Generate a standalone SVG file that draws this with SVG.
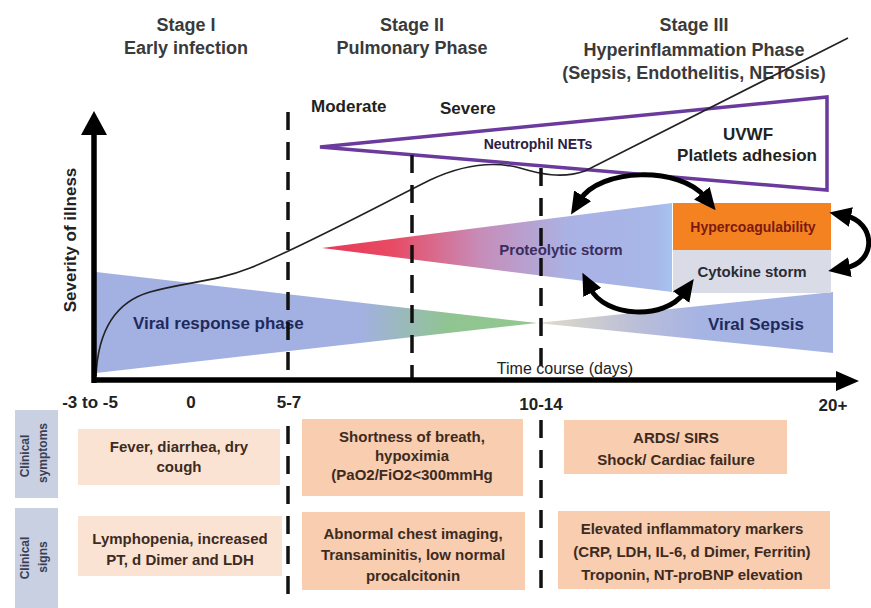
<svg xmlns="http://www.w3.org/2000/svg" width="871" height="608" viewBox="0 0 871 608">
<style>
  text { font-family: "Liberation Sans", Arial, sans-serif; font-weight: bold; }
  .head { font-size: 18px; fill: #3a3a3a; text-anchor: middle; }
  .sev { font-size: 17px; fill: #222; }
  .tick { font-size: 17px; fill: #222; text-anchor: middle; }
  .cell { font-size: 15px; fill: #3d2b1f; text-anchor: middle; }
  .side { font-size: 12px; fill: #3a3f55; text-anchor: middle; }
  .dash { stroke: #111; stroke-width: 3.5; stroke-dasharray: 18 12; fill: none; }
  .axis { stroke: #000; stroke-width: 5.5; fill: none; }
  .conn { stroke: #000; stroke-width: 5; fill: none; marker-start: url(#ah); marker-end: url(#ah); }
  .light { fill: #fbe3d3; }
  .peach { fill: #f8cdb0; }
  .sideBox { fill: #c9d0e1; }
</style>
<defs>
  <marker id="ah" viewBox="0 0 22 20" refX="5" refY="10" markerWidth="22" markerHeight="20" markerUnits="userSpaceOnUse" orient="auto-start-reverse">
    <path d="M0,0 L22,10 L0,20 z" fill="#000"/>
  </marker>
  <linearGradient id="gViral" gradientUnits="userSpaceOnUse" x1="96" y1="0" x2="537" y2="0">
    <stop offset="0" stop-color="#a3b0e2"/>
    <stop offset="0.6" stop-color="#a3b0e2"/>
    <stop offset="0.8" stop-color="#90c490"/>
    <stop offset="1" stop-color="#92c892"/>
  </linearGradient>
  <linearGradient id="gSepsis" gradientUnits="userSpaceOnUse" x1="537" y1="0" x2="833" y2="0">
    <stop offset="0" stop-color="#e2dcc8"/>
    <stop offset="0.35" stop-color="#b9bdd8"/>
    <stop offset="0.55" stop-color="#a6b4e4"/>
    <stop offset="1" stop-color="#a6b4e4"/>
  </linearGradient>
  <linearGradient id="gProt" gradientUnits="userSpaceOnUse" x1="322" y1="0" x2="672" y2="0">
    <stop offset="0" stop-color="#e63a58"/>
    <stop offset="0.2" stop-color="#e84a64"/>
    <stop offset="0.45" stop-color="#c78cb8"/>
    <stop offset="0.7" stop-color="#aab2e4"/>
    <stop offset="0.95" stop-color="#a8b6e8"/>
    <stop offset="1" stop-color="#a6c4ee"/>
  </linearGradient>
</defs>

<rect width="871" height="608" fill="#fff"/>

<!-- Stage headings -->
<g id="stage1">
  <text class="head" x="186" y="31">Stage I</text>
  <text class="head" x="186" y="54">Early infection</text>
</g>
<g id="stage2">
  <text class="head" x="412" y="31">Stage II</text>
  <text class="head" x="412" y="54">Pulmonary Phase</text>
</g>
<g id="stage3">
  <text class="head" x="694" y="31">Stage III</text>
  <text class="head" x="694" y="56">Hyperinflammation Phase</text>
  <text class="head" x="694" y="79">(Sepsis, Endothelitis, NETosis)</text>
</g>

<g id="severity-labels">
  <text class="sev" x="311" y="112">Moderate</text>
  <text class="sev" x="440" y="114">Severe</text>
</g>

<!-- Viral response phase -->
<g id="viral-response">
  <polygon points="96,272 537,323 96,373" fill="url(#gViral)"/>
  <text x="133" y="329" font-size="17" fill="#1f2a5c">Viral response phase</text>
</g>

<!-- Viral Sepsis -->
<g id="viral-sepsis">
  <polygon points="537,323 833,292 833,353" fill="url(#gSepsis)"/>
  <text x="756" y="330" font-size="17" fill="#1f2a5c" text-anchor="middle">Viral Sepsis</text>
</g>

<!-- Proteolytic storm -->
<g id="proteolytic">
  <polygon points="322,248 672,203 672,292" fill="url(#gProt)"/>
  <text x="561" y="255" font-size="15" fill="#3b2d5e" text-anchor="middle">Proteolytic storm</text>
</g>

<!-- Hypercoagulability -->
<g id="hypercoagulability">
  <rect x="673" y="203" width="158" height="47" fill="#f58220"/>
  <text x="753" y="232" font-size="14" fill="#7a1a10" text-anchor="middle">Hypercoagulability</text>
</g>

<!-- Cytokine storm -->
<g id="cytokine">
  <rect x="673" y="250" width="158" height="43" fill="#d9dce6"/>
  <text x="752" y="277" font-size="15" fill="#2b2b35" text-anchor="middle">Cytokine storm</text>
</g>

<!-- Neutrophil NETs / UVWF -->
<g id="neutrophil-nets">
  <polygon points="320,147 827,97 827,190" fill="#fff" stroke="#6a3a9c" stroke-width="3.5" stroke-linejoin="miter"/>
  <text x="538" y="149" font-size="14" fill="#2a2040" text-anchor="middle">Neutrophil NETs</text>
  <text x="748" y="140" font-size="17" fill="#222" text-anchor="middle">UVWF</text>
  <text x="747" y="161" font-size="17" fill="#222" text-anchor="middle">Platlets adhesion</text>
</g>

<!-- Severity curve -->
<path id="severity-curve" d="M96,376 C98,330 115,302 150,292 C185,282 215,282 250,268 C300,248 380,205 430,180 C460,166 490,160 520,168 C540,174 562,179 585,171 L848,38" fill="none" stroke="#222" stroke-width="1.6"/>

<!-- Dashed phase dividers -->
<g id="dividers">
  <line class="dash" x1="288" y1="112" x2="288" y2="378"/>
  <line class="dash" x1="288" y1="426" x2="288" y2="598"/>
  <line class="dash" x1="412" y1="155" x2="412" y2="378"/>
  <line class="dash" x1="541" y1="168" x2="541" y2="378"/>
  <line class="dash" x1="541" y1="420" x2="541" y2="598"/>
</g>

<!-- Axes -->
<g id="axes">
  <line class="axis" x1="94" y1="132" x2="94" y2="383"/>
  <polygon points="94,111 81,135 107,135" fill="#000"/>
  <line class="axis" x1="92" y1="380" x2="840" y2="380"/>
  <polygon points="859,381 836,371 836,391" fill="#000"/>
  <text x="70" y="240" font-size="17" fill="#222" text-anchor="middle" transform="rotate(-90 70 240)" dy="6">Severity of illness</text>
  <text x="565" y="374" font-size="16" font-weight="normal" fill="#222" text-anchor="middle" style="font-weight:normal">Time course (days)</text>
  <text class="tick" x="90" y="408">-3 to -5</text>
  <text class="tick" x="191" y="408">0</text>
  <text class="tick" x="289" y="408">5-7</text>
  <text class="tick" x="541" y="410">10-14</text>
  <text class="tick" x="833" y="411">20+</text>
</g>

<!-- Connectors -->
<g id="connectors">
  <path class="conn" d="M580,200 C600,168 680,166 705,197"/>
  <path class="conn" d="M590,288 C605,318 665,320 684,293"/>
  <path class="conn" d="M846,216 C875,222 878,262 845,268"/>
</g>

<!-- Table side labels -->
<g id="label-symptoms">
  <rect class="sideBox" x="15" y="410" width="43" height="88"/>
  <text class="side" transform="translate(29 456) rotate(-90)">Clinical</text>
  <text class="side" transform="translate(47 453) rotate(-90)">symptoms</text>
</g>
<g id="label-signs">
  <rect class="sideBox" x="15" y="508" width="43" height="100"/>
  <text class="side" transform="translate(29 558) rotate(-90)">Clinical</text>
  <text class="side" transform="translate(47 557) rotate(-90)">signs</text>
</g>

<!-- Table cells -->
<g id="cell-s1">
  <rect class="light" x="78" y="429" width="202" height="56"/>
  <text class="cell" x="179" y="452">Fever, diarrhea, dry</text>
  <text class="cell" x="179" y="472">cough</text>
</g>
<g id="cell-s2">
  <rect class="peach" x="302" y="419" width="221" height="77"/>
  <text class="cell" x="412" y="442">Shortness of breath,</text>
  <text class="cell" x="412" y="461">hypoximia</text>
  <text class="cell" x="412" y="480">(PaO2/FiO2&lt;300mmHg</text>
</g>
<g id="cell-s3">
  <rect class="peach" x="564" y="420" width="223" height="54"/>
  <text class="cell" x="676" y="443">ARDS/ SIRS</text>
  <text class="cell" x="676" y="465">Shock/ Cardiac failure</text>
</g>
<g id="cell-g1">
  <rect class="light" x="78" y="516" width="204" height="60"/>
  <text class="cell" x="180" y="544">Lymphopenia, increased</text>
  <text class="cell" x="180" y="565">PT, d Dimer and LDH</text>
</g>
<g id="cell-g2">
  <rect class="peach" x="302" y="512" width="223" height="78"/>
  <text class="cell" x="413" y="539">Abnormal chest imaging,</text>
  <text class="cell" x="413" y="560">Transaminitis, low normal</text>
  <text class="cell" x="413" y="581">procalcitonin</text>
</g>
<g id="cell-g3">
  <rect class="peach" x="558" y="511" width="272" height="78"/>
  <text class="cell" x="692" y="534">Elevated inflammatory markers</text>
  <text class="cell" x="692" y="557">(CRP, LDH, IL-6, d Dimer, Ferritin)</text>
  <text class="cell" x="692" y="580">Troponin, NT-proBNP elevation</text>
</g>
</svg>
